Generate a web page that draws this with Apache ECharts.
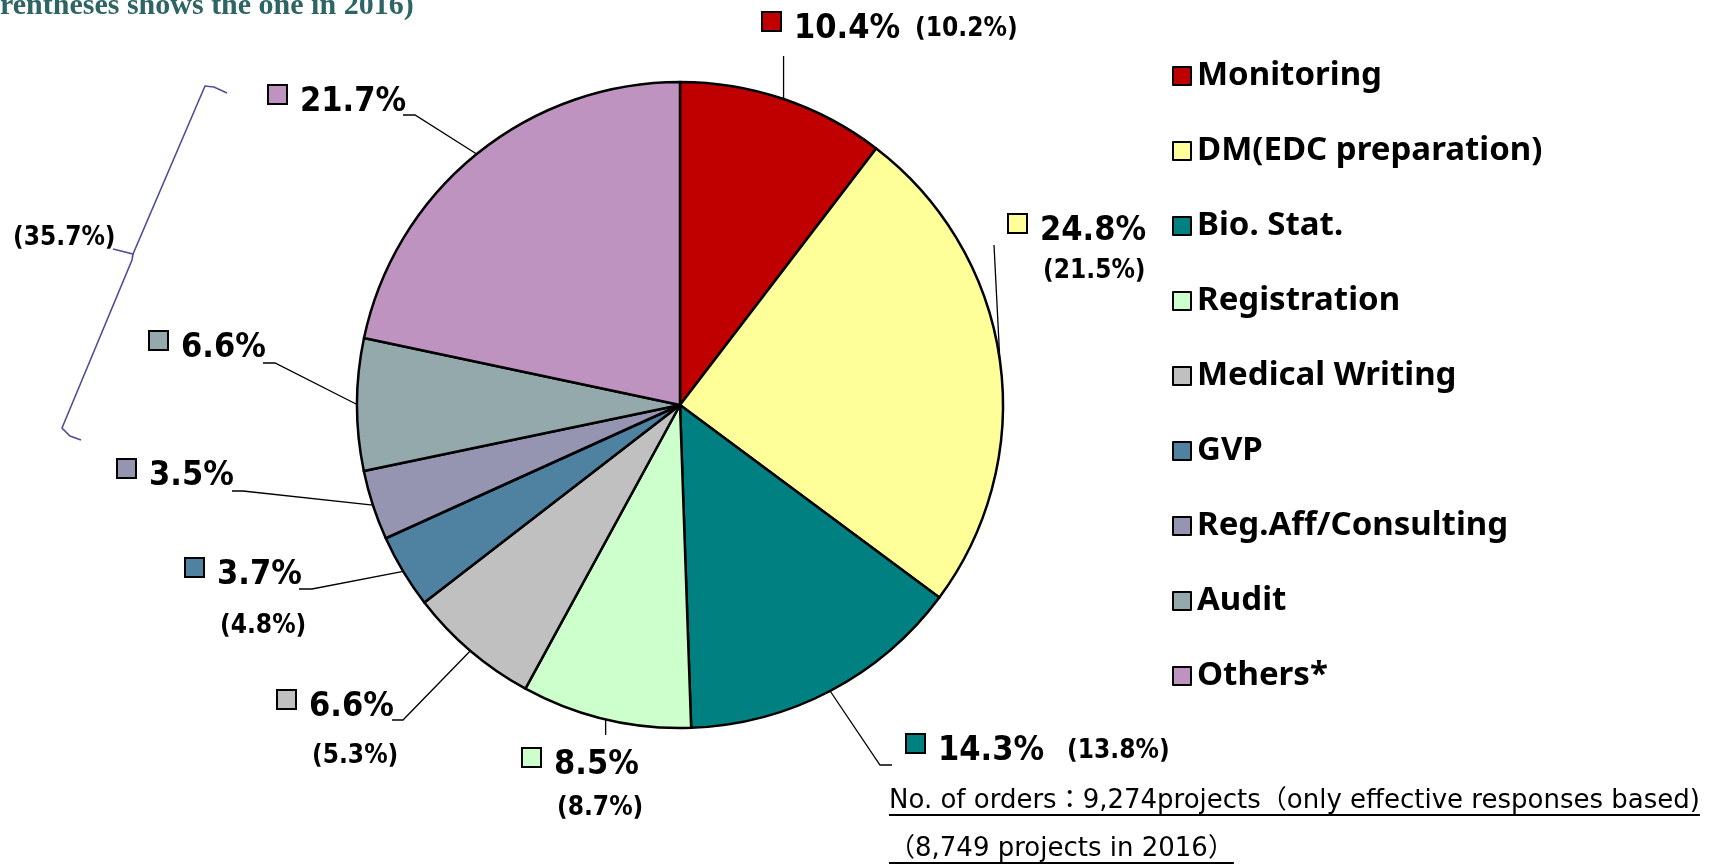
<!DOCTYPE html>
<html>
<head>
<meta charset="utf-8">
<script src="https://cdn.jsdelivr.net/npm/echarts@6/dist/echarts.min.js"></script>
<style>
  html, body { margin: 0; padding: 0; background: #fff; }
  #chart { width: 1709px; height: 867px; }
</style>
</head>
<body>
<div id="chart"></div>
<script>
// share of orders by service (2017), clockwise from 12 o'clock
const categories = ['Monitoring', 'DM(EDC preparation)', 'Bio. Stat.', 'Registration', 'Medical Writing',
    'GVP', 'Reg.Aff/Consulting', 'Audit', 'Others*'];
const share2017 = [10.4, 24.8, 14.3, 8.5, 6.6, 3.7, 3.5, 6.6, 21.7];
// value in 2016 shown in parentheses (null = not shown separately)
const share2016 = [10.2, 21.5, 13.8, 8.7, 5.3, 4.8, null, null, null];
// Reg.Aff + Audit + Others were one group in 2016
const groupShare2016 = 35.7;
const sliceColors = ['#C00000', '#FFFF99', '#008080', '#CCFFCC', '#C0C0C0', '#4F81A1', '#9595B1', '#93A9AC', '#BF93BF'];
const noteLines = ['No. of orders\uFF1A9,274projects\uFF08only effective responses based)', '\uFF088,749 projects in 2016\uFF09'];

const NARROW = "'Liberation Sans Narrow', 'DejaVu Sans Condensed', sans-serif";

// where each slice label sits, and the bend of its leader line (null x = same x as slice edge)
const labelSpots = [
    { x: 763, y: 13, prev: 'inline', gap: 15, line: [[null, 56]] },
    { x: 1009, y: 215, prev: 'below', lh: 48, line: [[994, 245]] },
    { x: 907, y: 735, prev: 'inline', gap: 23, line: [[880, 765], [892, 765]] },
    { x: 523, y: 749, prev: 'below', lh: 54, line: [[null, 735]] },
    { x: 278, y: 691, prev: 'below', lh: 66, line: [[403, 720], [392, 720]] },
    { x: 186, y: 559, prev: 'below', lh: 70, line: [[312, 589], [299, 589]] },
    { x: 118, y: 460, line: [[243, 491], [232, 491]] },
    { x: 150, y: 332, line: [[275, 363], [263, 363]] },
    { x: 269, y: 86, line: [[415, 115], [403, 115]] }
];

const rich = {
    pct: { fontFamily: NARROW, fontWeight: 'bold', fontSize: 34, lineHeight: 32, color: '#000', padding: [0, 0, 0, 14] }
};
categories.forEach((c, i) => {
    rich['sq' + i] = {
        width: 17, height: 17, backgroundColor: sliceColors[i],
        borderColor: '#000', borderWidth: 2, verticalAlign: 'top'
    };
    const s = labelSpots[i];
    if (s.prev === 'inline') {
        rich['sub' + i] = { fontFamily: NARROW, fontWeight: 'bold', fontSize: 26, color: '#000', padding: [0, 0, 0, s.gap] };
    } else if (s.prev === 'below') {
        rich['sub' + i] = { fontFamily: NARROW, fontWeight: 'bold', fontSize: 26, color: '#000', lineHeight: s.lh, padding: [0, 0, 0, 34] };
    }
});

function labelText(p) {
    const i = p.dataIndex;
    let txt = `{sq${i}|}{pct|${share2017[i].toFixed(1)}%}`;
    const prev = share2016[i];
    if (prev != null) {
        const sep = labelSpots[i].prev === 'inline' ? '' : '\n';
        txt += `${sep}{sub${i}|(${prev.toFixed(1)}%)}`;
    }
    return txt;
}

const chart = echarts.init(document.getElementById('chart'), null, { renderer: 'canvas' });

// underline widths for the note
const ctx = document.createElement('canvas').getContext('2d');
const noteFont = "26px 'DejaVu Sans', 'Noto Sans CJK JP', sans-serif";
ctx.font = noteFont;
const noteW = noteLines.map(t => ctx.measureText(t).width);

const option = {
    backgroundColor: '#fff',
    animation: false,
    legend: {
        orient: 'vertical',
        left: 1167,
        top: 53,
        itemWidth: 18,
        itemHeight: 18,
        itemGap: 39,
        icon: 'rect',
        selectedMode: false,
        itemStyle: { borderColor: '#000', borderWidth: 2 },
        textStyle: {
            fontFamily: "'Noto Sans', sans-serif", fontWeight: 'bold', fontSize: 33,
            color: '#000', lineHeight: 36, padding: [0, 0, 0, 1]
        },
        data: categories
    },
    graphic: [
        {
            type: 'text', x: 0, y: 6,
            style: {
                text: 'rentheses shows the one in 2016)', fill: '#2F6464',
                font: "bold 30px 'Liberation Serif', serif", verticalAlign: 'middle'
            }
        },
        {
            type: 'text', x: 13, y: 238,
            style: {
                text: `(${groupShare2016.toFixed(1)}%)`, fill: '#000',
                font: `bold 26px ${NARROW}`, verticalAlign: 'middle'
            }
        },
        {
            type: 'polyline',
            shape: { points: [[227, 93], [214, 87], [205, 86], [133, 254], [113, 249]] },
            style: { stroke: '#4F4F96', lineWidth: 1.6, fill: null }
        },
        {
            type: 'polyline',
            shape: { points: [[133, 254], [132, 260], [62, 428], [70, 436], [81, 440]] },
            style: { stroke: '#4F4F96', lineWidth: 1.6, fill: null }
        },
        {
            type: 'text', x: 889, y: 801,
            style: { text: noteLines[0], fill: '#000', font: noteFont, verticalAlign: 'middle' }
        },
        {
            type: 'line', shape: { x1: 889, y1: 815, x2: 889 + noteW[0], y2: 815 },
            style: { stroke: '#000', lineWidth: 2 }
        },
        {
            type: 'text', x: 889, y: 849,
            style: { text: noteLines[1], fill: '#000', font: noteFont, verticalAlign: 'middle' }
        },
        {
            type: 'line', shape: { x1: 889, y1: 863, x2: 889 + noteW[1], y2: 863 },
            style: { stroke: '#000', lineWidth: 2 }
        }
    ],
    series: [
        {
            type: 'pie',
            center: [680, 405],
            radius: 323,
            startAngle: 90,
            clockwise: true,
            avoidLabelOverlap: false,
            silent: true,
            itemStyle: { borderColor: '#000', borderWidth: 2.5 },
            label: {
                show: true,
                position: 'outside',
                formatter: labelText,
                rich: rich
            },
            labelLine: {
                show: true,
                length: 20,
                length2: 10,
                lineStyle: { color: '#000', width: 1.3 }
            },
            labelLayout: function (params) {
                const s = labelSpots[params.dataIndex];
                const p0 = params.labelLinePoints ? params.labelLinePoints[0] : [0, 0];
                const pts = [p0].concat(s.line.map(pt => [pt[0] == null ? p0[0] : pt[0], pt[1]]));
                return { x: s.x, y: s.y, align: 'left', verticalAlign: 'top', labelLinePoints: pts };
            },
            data: categories.map((c, i) => ({
                name: c,
                value: share2017[i],
                itemStyle: { color: sliceColors[i] }
            }))
        }
    ]
};

chart.setOption(option);
</script>
</body>
</html>
